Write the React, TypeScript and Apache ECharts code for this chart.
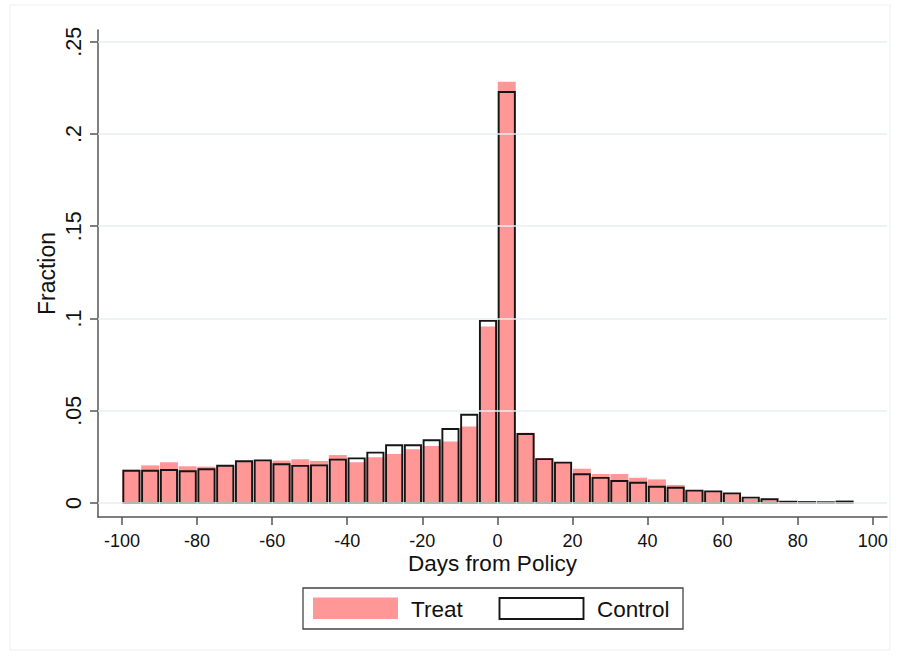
import React, { useEffect, useRef } from "react";
import * as echarts from "echarts";

const binStarts = [
  -100, -95, -90, -85, -80, -75, -70, -65, -60, -55, -50, -45, -40, -35, -30, -25, -20, -15, -10, -5,
  0, 5, 10, 15, 20, 25, 30, 35, 40, 45, 50, 55, 60, 65, 70, 75, 80, 85, 90,
];
const binWidth = 5;

const treat = [
  0.018, 0.0204, 0.0221, 0.0199, 0.0197, 0.0202, 0.0226, 0.0231, 0.023, 0.0237, 0.0228, 0.026, 0.0221,
  0.0248, 0.0266, 0.0291, 0.0309, 0.0334, 0.0414, 0.0956, 0.2283, 0.0381, 0.0244, 0.022, 0.0186, 0.0157,
  0.0157, 0.0137, 0.0128, 0.0098, 0.0068, 0.0063, 0.005, 0.0023, 0.0015, 0.001, 0.0003, 0.0002, 0.0003,
];

const control = [
  0.0175, 0.0175, 0.0179, 0.0172, 0.0183, 0.0202, 0.0226, 0.0231, 0.021, 0.0201, 0.0204, 0.0235, 0.0242,
  0.0273, 0.0313, 0.0313, 0.034, 0.0401, 0.0478, 0.0987, 0.2227, 0.0374, 0.0238, 0.0219, 0.0156, 0.0136,
  0.0119, 0.011, 0.0088, 0.0083, 0.0067, 0.0063, 0.0052, 0.0029, 0.002, 0.0007, 0.0005, 0.0004, 0.0008,
];

const xTicks = [-100, -80, -60, -40, -20, 0, 20, 40, 60, 80, 100];
const yTicks = [0, 0.05, 0.1, 0.15, 0.2, 0.25];
const yTickLabels = ["0", ".05", ".1", ".15", ".2", ".25"];

const FONT = "'Liberation Sans', Arial, sans-serif";

export default function App() {
  const ref = useRef<HTMLDivElement>(null);

  useEffect(() => {
    if (!ref.current) return;
    const chart = echarts.init(ref.current, undefined, { renderer: "svg" });

    const makeRender = (kind: "treat" | "control") => (params: any, api: any) => {
      const x0 = api.value(0);
      const v = api.value(1);
      const p0 = api.coord([x0, v]);
      const p1 = api.coord([x0 + binWidth, 0]);
      if (kind === "treat") {
        return {
          type: "rect",
          shape: { x: p0[0] + 0.4, y: p0[1], width: p1[0] - p0[0] - 0.8, height: p1[1] - p0[1] },
          style: { fill: "#ff9797" },
        };
      }
      return {
        type: "rect",
        shape: { x: p0[0] + 1.3, y: p0[1], width: p1[0] - p0[0] - 2.6, height: p1[1] - p0[1] },
        style: { fill: "none", stroke: "#151515", lineWidth: 1.9 },
      };
    };

    chart.setOption({
      animation: false,
      backgroundColor: "#ffffff",
      textStyle: { fontFamily: FONT },
      grid: { left: 98, right: 12, top: 30, bottom: 139, containLabel: false },
      xAxis: {
        type: "value",
        min: -106.4,
        max: 103.8,
        name: "Days from Policy",
        nameLocation: "middle",
        nameGap: 35,
        nameMoveOverlap: false,
        nameTextStyle: { fontSize: 22.5, lineHeight: 22.5, color: "#111", fontFamily: FONT },
        axisLine: { show: true, onZero: false, lineStyle: { color: "#555", width: 1.5 } },
        axisTick: { show: true, length: 8, customValues: xTicks, lineStyle: { color: "#555", width: 1.5 } },
        axisLabel: { customValues: xTicks, fontSize: 18, lineHeight: 18, color: "#111", margin: 15, fontFamily: FONT },
        splitLine: { show: false },
      },
      yAxis: {
        type: "value",
        min: -0.00758,
        max: 0.25634,
        name: "Fraction",
        nameLocation: "middle",
        nameGap: 40,
        nameMoveOverlap: false,
        nameRotate: 90,
        nameTextStyle: { fontSize: 23, color: "#111", fontFamily: FONT },
        axisLine: { show: true, onZero: false, lineStyle: { color: "#555", width: 1.5 } },
        axisTick: { show: true, length: 8, customValues: yTicks, lineStyle: { color: "#555", width: 1.5 } },
        axisLabel: {
          customValues: yTicks,
          rotate: 90,
          fontSize: 21.5,
          color: "#111",
          margin: 13,
          fontFamily: FONT,
          formatter: (v: number) => {
            const i = yTicks.findIndex((t) => Math.abs(t - v) < 1e-9);
            return i >= 0 ? yTickLabels[i] : "";
          },
        },
        splitLine: { show: false },
      },
      series: [
        {
          type: "line",
          data: [],
          silent: true,
          markLine: {
            silent: true,
            symbol: "none",
            label: { show: false },
            lineStyle: { color: "#e8eef0", width: 1.5, type: "solid" },
            data: yTicks.map((t) => ({ yAxis: t })),
          },
        },
        {
          name: "Treat",
          type: "custom",
          renderItem: makeRender("treat"),
          data: binStarts.map((b, i) => [b, treat[i]]),
          encode: { x: 0, y: 1 },
        },
        {
          name: "Control",
          type: "custom",
          renderItem: makeRender("control"),
          data: binStarts.map((b, i) => [b, control[i]]),
          encode: { x: 0, y: 1 },
        },
      ],
      graphic: [
        {
          type: "rect",
          shape: { x: 10, y: 5, width: 880, height: 645 },
          style: { fill: "none", stroke: "#eceff0", lineWidth: 1 },
          silent: true,
        },
        {
          type: "rect",
          shape: { x: 303, y: 588, width: 380, height: 41 },
          style: { fill: "#fff", stroke: "#444", lineWidth: 1.3 },
        },
        {
          type: "rect",
          shape: { x: 313, y: 597.5, width: 85, height: 21.5 },
          style: { fill: "#ff9797" },
        },
        {
          type: "text",
          x: 411,
          y: 609,
          style: { text: "Treat", fontSize: 22.5, fill: "#111", fontFamily: FONT, verticalAlign: "middle", align: "left" },
        },
        {
          type: "rect",
          shape: { x: 499.5, y: 598, width: 84, height: 21 },
          style: { fill: "none", stroke: "#151515", lineWidth: 1.9 },
        },
        {
          type: "text",
          x: 597,
          y: 609,
          style: { text: "Control", fontSize: 22.5, fill: "#111", fontFamily: FONT, verticalAlign: "middle", align: "left" },
        },
      ],
    });

    return () => chart.dispose();
  }, []);

  return (
    <div
      ref={ref}
      style={{ position: "absolute", left: 0, top: 0, width: 899, height: 656, background: "#fff" }}
    />
  );
}
